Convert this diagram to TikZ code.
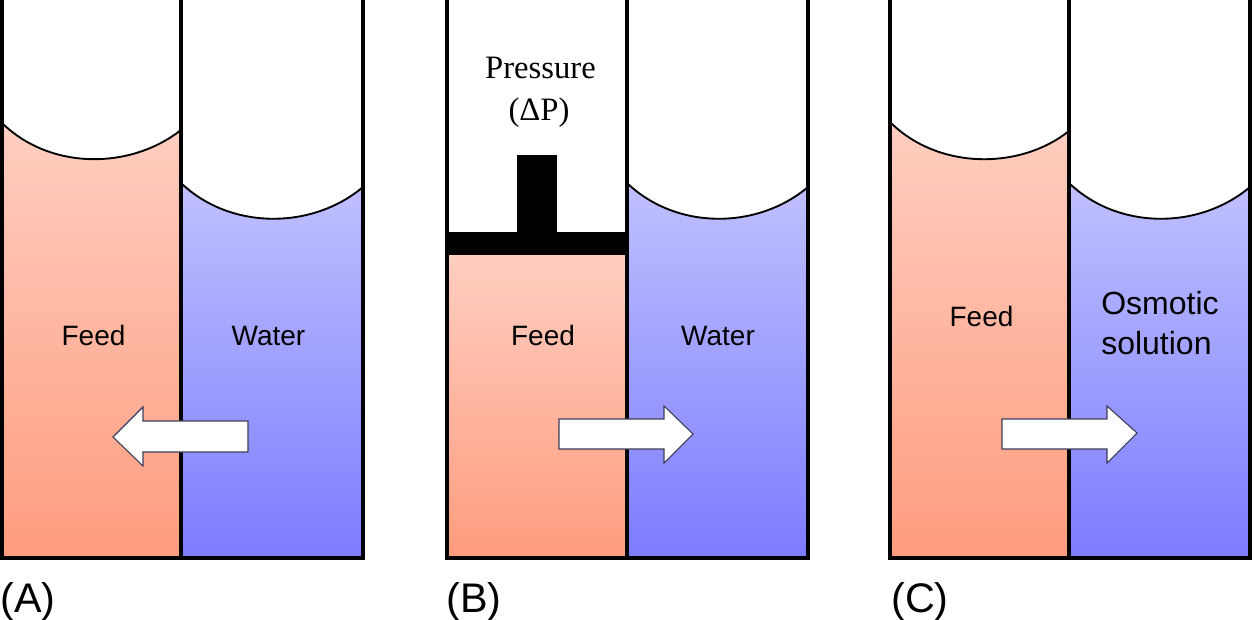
\documentclass[tikz,border=0pt]{standalone}
\usepackage{fontspec}
\setmainfont{Liberation Sans}
\newfontfamily\serifface{Liberation Serif}
\definecolor{feedtop}{RGB}{255,206,192}
\definecolor{feedbot}{RGB}{255,156,126}
\definecolor{watertop}{RGB}{192,192,255}
\definecolor{waterbot}{RGB}{124,124,255}
\definecolor{arrowedge}{RGB}{60,60,90}
\tikzset{
  wall/.style={line width=3pt, line join=miter},
  meniscus/.style={line width=1.4pt, black},
  feedfill/.style={top color=feedtop, bottom color=feedbot, draw=none},
  waterfill/.style={top color=watertop, bottom color=waterbot, draw=none},
  flow/.style={fill=white, draw=arrowedge, line width=0.8pt, line join=miter},
  piston/.style={fill=black, draw=none},
  lbl/.style={font=\fontsize{21}{25}\selectfont, anchor=base, inner sep=0pt},
  biglbl/.style={font=\fontsize{24}{30}\selectfont, anchor=base west, inner sep=0pt},
  serlbl/.style={font=\serifface\fontsize{24.5}{30}\selectfont, anchor=base, inner sep=0pt},
  panellbl/.style={font=\fontsize{31}{37}\selectfont, anchor=base west, inner sep=0pt}
}
\begin{document}
\begin{tikzpicture}[x=0.75pt, y=-0.75pt]
\useasboundingbox (0,0) rectangle (1254,620);
\fill[white] (0,0) rectangle (1254,620);

% ---------- Panel A ----------
\shade[feedfill] (2,123) .. controls (50,170) and (130,170) .. (181,130) -- (181,558) -- (2,558) -- cycle;
\shade[waterfill] (181,183) .. controls (230,230) and (312,230) .. (363,187) -- (363,558) -- (181,558) -- cycle;
\draw[meniscus] (2,123) .. controls (50,170) and (130,170) .. (181,130);
\draw[meniscus] (181,183) .. controls (230,230) and (312,230) .. (363,187);
\draw[wall] (2,-5) -- (2,558) -- (363,558) -- (363,-5);
\draw[wall] (181,-5) -- (181,558);
\draw[flow] (113,437) -- (143,407) -- (143,421) -- (248,421) -- (248,452) -- (143,452) -- (143,466) -- cycle;
\node[lbl] (feedA) at (93.5,346) {Feed};
\node[lbl] (waterA) at (268.5,346) {Water};
\node[panellbl] (labA) at (0,612) {(A)};

% ---------- Panel B ----------
\shade[feedfill] (447,255) rectangle (627,558);
\shade[waterfill] (627,183) .. controls (676,230) and (757,230) .. (808,187) -- (808,558) -- (627,558) -- cycle;
\draw[meniscus] (627,183) .. controls (676,230) and (757,230) .. (808,187);
\fill[piston] (447,232) rectangle (627,255);
\fill[piston] (517,155) rectangle (557,233);
\draw[wall] (447,-5) -- (447,558) -- (808,558) -- (808,-5);
\draw[wall] (627,-5) -- (627,558);
\draw[flow] (693,434) -- (664,406) -- (664,419) -- (559,419) -- (559,449) -- (664,449) -- (664,463) -- cycle;
\node[serlbl] (pressure) at (540.5,79) {Pressure};
\node[serlbl] (deltap) at (539,121) {(ΔP)};
\node[lbl] (feedB) at (543,346) {Feed};
\node[lbl] (waterB) at (718,346) {Water};
\node[panellbl] (labB) at (446,612) {(B)};

% ---------- Panel C ----------
\shade[feedfill] (890,122) .. controls (938,170) and (1020,170) .. (1069,131) -- (1069,558) -- (890,558) -- cycle;
\shade[waterfill] (1069,183) .. controls (1118,230) and (1199,230) .. (1250,187) -- (1250,558) -- (1069,558) -- cycle;
\draw[meniscus] (890,122) .. controls (938,170) and (1020,170) .. (1069,131);
\draw[meniscus] (1069,183) .. controls (1118,230) and (1199,230) .. (1250,187);
\draw[wall] (890,-5) -- (890,558) -- (1250,558) -- (1250,-5);
\draw[wall] (1069,-5) -- (1069,558);
\draw[flow] (1137,433) -- (1107,406) -- (1107,419) -- (1002,419) -- (1002,449) -- (1107,449) -- (1107,463) -- cycle;
\node[lbl] (feedC) at (981.5,327) {Feed};
\node[biglbl] (osm1) at (1101,315) {Osmotic};
\node[biglbl] (osm2) at (1101,355) {solution};
\node[panellbl] (labC) at (891,612) {(C)};
\end{tikzpicture}
\end{document}
